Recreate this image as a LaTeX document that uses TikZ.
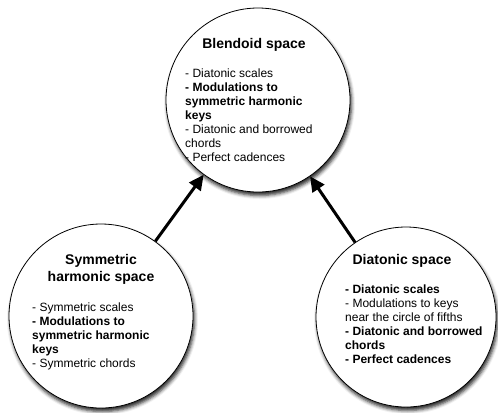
\documentclass[tikz,border=0pt]{standalone}
\usepackage{fontspec}
\setmainfont{Liberation Sans}
\usetikzlibrary{arrows.meta,shadows.blur}

\begin{document}
\begin{tikzpicture}[x=1bp,y=-1bp,
    space/.style={draw,circle,line width=0.8bp,fill=white,inner sep=0pt,
        blur shadow={shadow xshift=1.5bp,shadow yshift=-3.5bp,shadow blur radius=3.5bp,shadow opacity=85}},
    arc/.style={draw,line width=3bp,-{Triangle[length=15bp,width=14bp]}},
    title/.style={font=\bfseries\fontsize{14bp}{17bp}\selectfont,align=center,inner sep=0pt},
    items/.style={font=\fontsize{12bp}{14bp}\selectfont,align=left,anchor=north west,inner sep=0pt}]
        \useasboundingbox (0,0) rectangle (498,412);

        \node[space,minimum size=184bp] (blend) at (258,100) {};
        \node[space,minimum size=184bp] (sym) at (101,316) {};
        \node[space,minimum size=180bp] (dia) at (406,317) {};

        \node[title] (blendtitle) at (254,45) {Blendoid space};
        \node[items] (blenditems) at (185,68.5) {- Diatonic scales\\
            \textbf{- Modulations to}\\
            \textbf{symmetric harmonic}\\
            \textbf{keys}\\
            - Diatonic and borrowed\\
            chords\\
            - Perfect cadences};

        \node[title] (symtitle) at (101,269.5) {Symmetric\\harmonic space};
        \node[items] (symitems) at (32,302.5) {- Symmetric scales\\
            \textbf{- Modulations to}\\
            \textbf{symmetric harmonic}\\
            \textbf{keys}\\
            - Symmetric chords};

        \node[title] (diatitle) at (402,261) {Diatonic space};
        \node[items] (diaitems) at (345,284.5) {\textbf{- Diatonic scales}\\
            - Modulations to keys\\
            near the circle of fifths\\
            \textbf{- Diatonic and borrowed}\\
            \textbf{chords}\\
            \textbf{- Perfect cadences}};

        \draw[arc] (sym) -- (blend);
        \draw[arc] (dia) -- (blend);
    \end{tikzpicture}
\end{document}
